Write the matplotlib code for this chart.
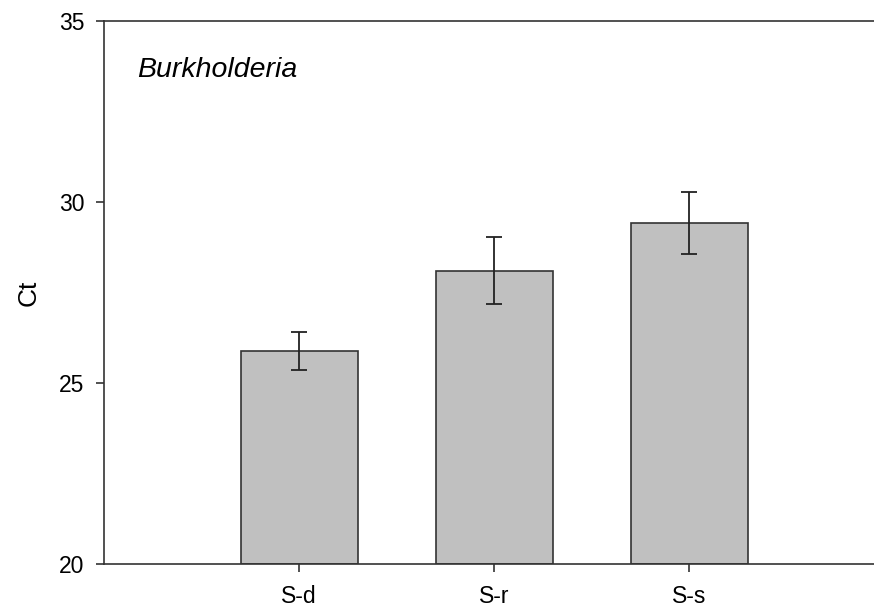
import numpy as np
import matplotlib
matplotlib.use("Agg")
from matplotlib import pyplot as plt

plt.rcParams['font.family'] = ['Liberation Sans', 'DejaVu Sans']

groups = ["S-d", "S-r", "S-s"]
ct_mean = [25.89, 28.10, 29.42]
ct_err = [0.53, 0.92, 0.86]
yticks = [20, 25, 30, 35]

fig = plt.figure(figsize=(8.74, 6.08), dpi=100)
ax = fig.add_axes([104/874, 44/608, 780/874, 543/608])

x = np.arange(1, len(groups) + 1)
ax.bar(x, np.array(ct_mean) - 20, bottom=20, width=0.6, color="#c0c0c0",
       edgecolor="#333333", linewidth=1.2, zorder=2)
ax.errorbar(x, ct_mean, yerr=ct_err, fmt="none", ecolor="#222222",
            elinewidth=1.3, capsize=6, capthick=1.3, zorder=3)

ax.set_xlim(0, 4)
ax.set_ylim(20, 35)
ax.set_xticks(x)
ax.set_xticklabels(groups)
ax.set_yticks(yticks)
ax.tick_params(axis="both", direction="out", length=6, width=1.2,
               labelsize=16.5, color="#333333")
ax.tick_params(axis="y", pad=8)
ax.tick_params(axis="x", pad=9)
for s in ["left", "top", "bottom"]:
    ax.spines[s].set_linewidth(1.2)
    ax.spines[s].set_color("#333333")
ax.spines["right"].set_visible(False)

ax.set_ylabel("Ct", fontsize=19, labelpad=13)
fig.text(137/874, 1 - 70/608, "Burkholderia", fontsize=20.5,
         style="italic", va="center", ha="left")

fig.savefig("out.png", dpi=100)
